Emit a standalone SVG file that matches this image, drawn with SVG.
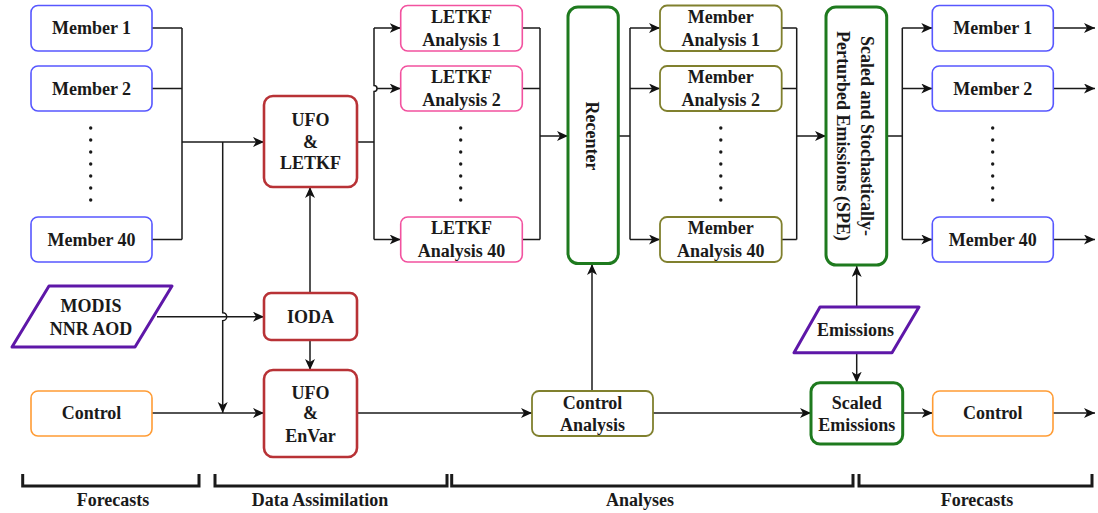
<svg xmlns="http://www.w3.org/2000/svg" width="1098" height="513" viewBox="0 0 1098 513">
<defs>
<marker id="arr" markerUnits="userSpaceOnUse" markerWidth="12" markerHeight="11" refX="11" refY="5" orient="auto">
<path d="M0,0 L11,5 L0,10 L3,5 Z" fill="#111"/>
</marker>
<style>
text{font-family:"Liberation Serif","Times New Roman",serif;font-weight:bold;font-size:18px;fill:#1a1a1a;text-anchor:middle}
.blue{fill:#fff;stroke:#5757FF;stroke-width:1.6}
.pink{fill:#fff;stroke:#F2529F;stroke-width:1.6}
.olive{fill:#fff;stroke:#80802E;stroke-width:1.8}
.orange{fill:#fff;stroke:#FF9C35;stroke-width:1.6}
.red{fill:#fff;stroke:#B83236;stroke-width:2.6}
.green{fill:#fff;stroke:#1E7A1E;stroke-width:3}
.purple{fill:#fff;stroke:#5E17A8;stroke-width:3;stroke-linejoin:round}
.c{fill:none;stroke:#1a1a1a;stroke-width:1.5}
.a{fill:none;stroke:#1a1a1a;stroke-width:1.5;marker-end:url(#arr)}
.br{fill:none;stroke:#1a1a1a;stroke-width:3}
.dot{fill:#1a1a1a}
</style>
</defs>

<g id="connectors">
<path class="c" d="M152,28 H182 M152,88.5 H182 M152,239.5 H182 M182,28 V239.5"/>
<path class="a" d="M182,142 H264"/>
<path class="a" d="M222.7,142 V312.7 a4,4 0 0 1 0,8 V413"/>
<path class="a" d="M152,413 H264"/>
<path class="a" d="M157,316.7 H264"/>
<path class="a" d="M310,293 V187"/>
<path class="a" d="M310,340 V370"/>
<path class="c" d="M357,142 H374 M374,28 V85.5 a3,3 0 0 1 0,6 V239.5"/>
<path class="a" d="M374,28 H400.7"/>
<path class="a" d="M377,88.5 H400.7"/>
<path class="a" d="M374,239.5 H400.7"/>
<path class="c" d="M522.3,28 H540 M522.3,88.5 H540 M522.3,239.5 H540 M540,28 V239.5"/>
<path class="a" d="M540,136 H568"/>
<path class="c" d="M618.3,136 H630 M630,28 V239.5"/>
<path class="a" d="M630,28 H660"/>
<path class="a" d="M630,88.5 H660"/>
<path class="a" d="M630,239.5 H660"/>
<path class="c" d="M781.7,28 H796.7 M781.7,88.5 H796.7 M781.7,239.5 H796.7 M796.7,28 V239.5"/>
<path class="a" d="M796.7,136 H826"/>
<path class="c" d="M886.7,136 H902.3 M902.3,28 V239.5"/>
<path class="a" d="M902.3,28 H932.3"/>
<path class="a" d="M902.3,88.5 H932.3"/>
<path class="a" d="M902.3,239.5 H932.3"/>
<path class="a" d="M1053.3,28 H1095"/>
<path class="a" d="M1053.3,88.5 H1095"/>
<path class="a" d="M1053.3,239.5 H1095"/>
<path class="a" d="M357,413 H532"/>
<path class="a" d="M592,391 V264"/>
<path class="a" d="M653,413 H811"/>
<path class="a" d="M856.7,307 V266"/>
<path class="a" d="M856.7,352.7 V382.7"/>
<path class="a" d="M902.7,413 H932.7"/>
<path class="a" d="M1053,413 H1095"/>
</g>

<g id="member1"><rect class="blue" x="31" y="5.5" width="121" height="45.5" rx="7"/><text x="91.5" y="34">Member 1</text></g>
<g id="member2"><rect class="blue" x="31" y="66" width="121" height="45" rx="7"/><text x="91.5" y="94.5">Member 2</text></g>
<g id="member-dots"><circle class="dot" cx="90.7" cy="128" r="1.7"/><circle class="dot" cx="90.7" cy="140" r="1.7"/><circle class="dot" cx="90.7" cy="152" r="1.7"/><circle class="dot" cx="90.7" cy="164" r="1.7"/><circle class="dot" cx="90.7" cy="176" r="1.7"/><circle class="dot" cx="90.7" cy="188" r="1.7"/><circle class="dot" cx="90.7" cy="200" r="1.7"/></g>
<g id="member40"><rect class="blue" x="31" y="217" width="121" height="45" rx="7"/><text x="91.5" y="245.5">Member 40</text></g>

<g id="modis"><path class="purple" d="M49,286 H172 L135,347 H12 Z"/><text x="91" y="311.5">MODIS</text><text x="91" y="335">NNR AOD</text></g>
<g id="control-fc"><rect class="orange" x="31" y="391" width="121" height="45" rx="7"/><text x="91.5" y="419">Control</text></g>

<g id="ufo-letkf"><rect class="red" x="264" y="96" width="93" height="91" rx="9"/><text x="310.5" y="126">UFO</text><text x="310.5" y="147.7">&amp;</text><text x="310.5" y="169.3">LETKF</text></g>
<g id="ioda"><rect class="red" x="264" y="293" width="93" height="47" rx="7"/><text x="310.5" y="322.7">IODA</text></g>
<g id="ufo-envar"><rect class="red" x="264" y="370" width="93" height="87" rx="9"/><text x="310.5" y="398.7">UFO</text><text x="310.5" y="419.3">&amp;</text><text x="310.5" y="441.7">EnVar</text></g>

<g id="letkf1"><rect class="pink" x="400.7" y="5.5" width="121.6" height="45.5" rx="7"/><text x="461.5" y="22.7">LETKF</text><text x="461.5" y="46">Analysis 1</text></g>
<g id="letkf2"><rect class="pink" x="400.7" y="66" width="121.6" height="45" rx="7"/><text x="461.5" y="83">LETKF</text><text x="461.5" y="106.3">Analysis 2</text></g>
<g id="letkf-dots"><circle class="dot" cx="460.7" cy="128" r="1.7"/><circle class="dot" cx="460.7" cy="140" r="1.7"/><circle class="dot" cx="460.7" cy="152" r="1.7"/><circle class="dot" cx="460.7" cy="164" r="1.7"/><circle class="dot" cx="460.7" cy="176" r="1.7"/><circle class="dot" cx="460.7" cy="188" r="1.7"/><circle class="dot" cx="460.7" cy="200" r="1.7"/></g>
<g id="letkf40"><rect class="pink" x="400.7" y="217" width="121.6" height="45" rx="7"/><text x="461.5" y="234">LETKF</text><text x="461.5" y="257.3">Analysis 40</text></g>

<g id="recenter"><rect class="green" x="568" y="7" width="50.3" height="256.5" rx="10"/><text x="592" y="142" transform="rotate(90 592 136)">Recenter</text></g>

<g id="ma1"><rect class="olive" x="660" y="5.5" width="121.7" height="45.5" rx="7"/><text x="720.8" y="22.7">Member</text><text x="720.8" y="46">Analysis 1</text></g>
<g id="ma2"><rect class="olive" x="660" y="66" width="121.7" height="45" rx="7"/><text x="720.8" y="83">Member</text><text x="720.8" y="106.3">Analysis 2</text></g>
<g id="ma-dots"><circle class="dot" cx="720.8" cy="128" r="1.7"/><circle class="dot" cx="720.8" cy="140" r="1.7"/><circle class="dot" cx="720.8" cy="152" r="1.7"/><circle class="dot" cx="720.8" cy="164" r="1.7"/><circle class="dot" cx="720.8" cy="176" r="1.7"/><circle class="dot" cx="720.8" cy="188" r="1.7"/><circle class="dot" cx="720.8" cy="200" r="1.7"/></g>
<g id="ma40"><rect class="olive" x="660" y="217" width="121.7" height="45" rx="7"/><text x="720.8" y="234">Member</text><text x="720.8" y="257.3">Analysis 40</text></g>

<g id="spe"><rect class="green" x="826" y="7" width="60.7" height="258" rx="10"/><g transform="rotate(90 855 136)"><text x="855" y="130">Scaled and Stochastically-</text><text x="855" y="154">Perturbed Emissions (SPE)</text></g></g>

<g id="member1-fc"><rect class="blue" x="932.3" y="5.5" width="121" height="45.5" rx="7"/><text x="992.8" y="34">Member 1</text></g>
<g id="member2-fc"><rect class="blue" x="932.3" y="66" width="121" height="45" rx="7"/><text x="992.8" y="94.5">Member 2</text></g>
<g id="member-fc-dots"><circle class="dot" cx="992.7" cy="128" r="1.7"/><circle class="dot" cx="992.7" cy="140" r="1.7"/><circle class="dot" cx="992.7" cy="152" r="1.7"/><circle class="dot" cx="992.7" cy="164" r="1.7"/><circle class="dot" cx="992.7" cy="176" r="1.7"/><circle class="dot" cx="992.7" cy="188" r="1.7"/><circle class="dot" cx="992.7" cy="200" r="1.7"/></g>
<g id="member40-fc"><rect class="blue" x="932.3" y="217" width="121" height="45" rx="7"/><text x="992.8" y="245.5">Member 40</text></g>

<g id="control-analysis"><rect class="olive" x="532" y="391" width="121" height="45" rx="7"/><text x="592.5" y="409">Control</text><text x="592.5" y="431">Analysis</text></g>
<g id="emissions"><path class="purple" d="M820,307 H919 L892,352.7 H794 Z"/><text x="855.5" y="336">Emissions</text></g>
<g id="scaled-emissions"><rect class="green" x="811" y="382.7" width="91.7" height="61.3" rx="9"/><text x="856.8" y="408.7">Scaled</text><text x="856.8" y="431">Emissions</text></g>
<g id="control-fc2"><rect class="orange" x="932.7" y="391" width="120.3" height="45" rx="7"/><text x="992.8" y="419">Control</text></g>

<g id="brackets">
<path class="br" d="M22.7,474 V486 H199 V474"/>
<path class="br" d="M215,474 V486 H447 V474"/>
<path class="br" d="M451.7,474 V486 H853 V474"/>
<path class="br" d="M859,474 V486 H1092 V474"/>
<text x="113" y="505.5">Forecasts</text>
<text x="320" y="505.5">Data Assimilation</text>
<text x="640" y="505.5">Analyses</text>
<text x="977" y="505.5">Forecasts</text>
</g>
</svg>
